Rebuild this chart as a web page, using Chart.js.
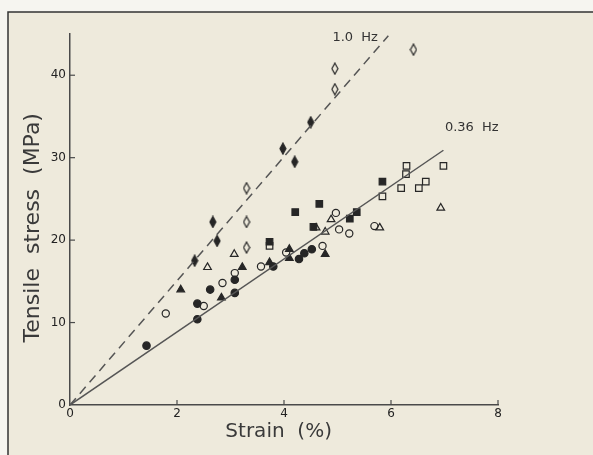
<!DOCTYPE html>
<html>
<head>
<meta charset="utf-8">
<script src="https://cdn.jsdelivr.net/npm/chart.js@4.4.1/dist/chart.umd.min.js"></script>
<style>
  html, body { margin: 0; padding: 0; background: #f6f5f0; }
  #plot { display: block; }
</style>
</head>
<body>
<canvas id="plot" width="593" height="455"></canvas>
<script>
// axis ticks
const strainTicks = [0, 2, 4, 6, 8];
const stressTicks = [0, 10, 20, 30, 40];

// measurements, strain (%) vs tensile stress (MPa)
const filledDiamondX = [2.33, 2.67, 2.75, 3.98, 4.20, 4.50];
const filledDiamondY = [17.5, 22.2, 19.9, 31.1, 29.5, 34.3];
const openDiamondX = [3.30, 3.30, 3.30, 4.95, 4.95, 6.42];
const openDiamondY = [19.1, 22.2, 26.3, 38.3, 40.8, 43.1];
const filledSquareX = [3.73, 4.21, 4.55, 4.66, 5.23, 5.36, 5.84];
const filledSquareY = [19.8, 23.4, 21.6, 24.4, 22.6, 23.4, 27.1];
const openSquareX = [3.73, 5.84, 6.19, 6.28, 6.29, 6.52, 6.65, 6.98];
const openSquareY = [19.3, 25.3, 26.3, 28.0, 29.0, 26.3, 27.1, 29.0];
const filledCircleX = [1.43, 2.38, 2.38, 2.62, 3.08, 3.08, 3.80, 4.28, 4.38, 4.52];
const filledCircleY = [7.2, 10.4, 12.3, 14.0, 13.6, 15.2, 16.8, 17.7, 18.4, 18.9];
const openCircleX = [1.79, 2.50, 2.85, 3.08, 3.57, 4.04, 4.72, 4.97, 5.03, 5.22, 5.69];
const openCircleY = [11.1, 12.0, 14.8, 16.0, 16.8, 18.5, 19.3, 23.3, 21.3, 20.8, 21.7];
const filledTriangleX = [2.07, 2.83, 3.22, 3.73, 4.10, 4.10, 4.77];
const filledTriangleY = [14.0, 13.0, 16.7, 17.3, 18.9, 17.8, 18.3];
const openTriangleX = [2.57, 3.07, 4.60, 4.77, 4.88, 5.79, 6.93];
const openTriangleY = [16.7, 18.3, 21.5, 21.0, 22.5, 21.5, 23.9];

// fitted lines through the origin
const fastFitX = [0, 5.95];
const fastFitY = [0, 44.8];
const slowFitX = [0, 6.98];
const slowFitY = [0, 30.9];

const ink = '#262626';
const axisInk = '#4a4a4a';
const paper = '#eeeadc';

function pts(xs, ys) {
  return xs.map((x, i) => ({ x: x, y: ys[i] }));
}

// tall narrow diamond marker
function diamond(filled) {
  const c = document.createElement('canvas');
  c.width = 8; c.height = 13;
  const g = c.getContext('2d');
  g.beginPath();
  g.moveTo(4, 1); g.lineTo(7, 6.5); g.lineTo(4, 12); g.lineTo(1, 6.5); g.closePath();
  if (filled) { g.fillStyle = ink; g.fill(); }
  g.strokeStyle = ink; g.lineWidth = 1.2; g.stroke();
  return c;
}

function marks(xs, ys, style, filled, r) {
  return {
    type: 'scatter',
    data: pts(xs, ys),
    pointStyle: style,
    pointRadius: r,
    pointHoverRadius: r,
    pointBackgroundColor: filled ? ink : 'rgba(0,0,0,0)',
    pointBorderColor: ink,
    pointBorderWidth: 1.2
  };
}

function fitLine(xs, ys, dash) {
  return {
    type: 'line',
    data: pts(xs, ys),
    borderColor: '#555',
    borderWidth: 1.5,
    borderDash: dash,
    pointRadius: 0,
    fill: false
  };
}

const paperPlugin = {
  id: 'paper',
  beforeDraw(chart) {
    const g = chart.ctx;
    g.save();
    g.fillStyle = '#f6f5f0';
    g.fillRect(0, 0, chart.width, chart.height);
    g.fillStyle = paper;
    g.fillRect(8, 12, chart.width - 8, chart.height - 12);
    g.strokeStyle = '#333';
    g.lineWidth = 1.5;
    g.beginPath();
    g.moveTo(8, chart.height); g.lineTo(8, 12); g.lineTo(chart.width, 12);
    g.stroke();
    g.restore();
  }
};

// inward tick marks, axis titles and the line labels
const annotatePlugin = {
  id: 'annotate',
  afterDatasetsDraw(chart) {
    const g = chart.ctx;
    const xs = chart.scales.x, ys = chart.scales.y;
    g.save();
    g.strokeStyle = axisInk;
    g.lineWidth = 1.2;
    strainTicks.forEach(v => {
      if (v === 0) return;
      const px = xs.getPixelForValue(v);
      g.beginPath(); g.moveTo(px, ys.bottom); g.lineTo(px, ys.bottom - 5); g.stroke();
    });
    stressTicks.forEach(v => {
      if (v === 0) return;
      const py = ys.getPixelForValue(v);
      g.beginPath(); g.moveTo(xs.left, py); g.lineTo(xs.left + 5, py); g.stroke();
    });

    g.fillStyle = '#3a3a3a';
    g.textAlign = 'center';
    g.textBaseline = 'middle';
    g.font = '20px "DejaVu Sans"';
    g.fillText('Strain  (%)', xs.getPixelForValue(3.9), ys.bottom + 27);
    g.save();
    g.translate(xs.left - 37, ys.getPixelForValue(21.5));
    g.rotate(-Math.PI / 2);
    g.font = '22px "DejaVu Sans"';
    g.fillText('Tensile  stress  (MPa)', 0, 0);
    g.restore();

    g.fillStyle = '#333';
    g.font = '13px "DejaVu Sans"';
    g.fillText('1.0  Hz', xs.getPixelForValue(5.33), ys.getPixelForValue(44.5));
    g.fillText('0.36  Hz', xs.getPixelForValue(7.51), ys.getPixelForValue(33.7));
    g.restore();
  }
};

new Chart(document.getElementById('plot'), {
  data: {
    datasets: [
      fitLine(fastFitX, fastFitY, [9, 6]),
      fitLine(slowFitX, slowFitY, []),
      marks(openSquareX, openSquareY, 'rect', false, 4.6),
      marks(openCircleX, openCircleY, 'circle', false, 3.6),
      marks(openTriangleX, openTriangleY, 'triangle', false, 4.4),
      marks(openDiamondX, openDiamondY, diamond(false), false, 5),
      marks(filledSquareX, filledSquareY, 'rect', true, 4.6),
      marks(filledCircleX, filledCircleY, 'circle', true, 3.7),
      marks(filledTriangleX, filledTriangleY, 'triangle', true, 4.4),
      marks(filledDiamondX, filledDiamondY, diamond(true), true, 5)
    ]
  },
  options: {
    responsive: false,
    animation: false,
    layout: { padding: { left: 20, right: 95, top: 34, bottom: 8 } },
    plugins: { legend: { display: false }, tooltip: { enabled: false } },
    scales: {
      x: {
        type: 'linear',
        min: 0, max: 8,
        afterFit: s => { s.height = 42; },
        afterBuildTicks: s => { s.ticks = strainTicks.map(v => ({ value: v })); },
        grid: { display: true, drawOnChartArea: false, drawTicks: false },
        border: { color: axisInk, width: 1.5 },
        ticks: { color: '#222', padding: 2, font: { family: 'DejaVu Sans', size: 12 } }
      },
      y: {
        type: 'linear',
        min: 0, max: 45,
        afterFit: s => { s.width = 50; },
        afterBuildTicks: s => { s.ticks = stressTicks.map(v => ({ value: v })); },
        grid: { display: true, drawOnChartArea: false, drawTicks: false },
        border: { color: axisInk, width: 1.5 },
        ticks: { color: '#222', padding: 4, font: { family: 'DejaVu Sans', size: 12 } }
      }
    }
  },
  plugins: [paperPlugin, annotatePlugin]
});
</script>
</body>
</html>
